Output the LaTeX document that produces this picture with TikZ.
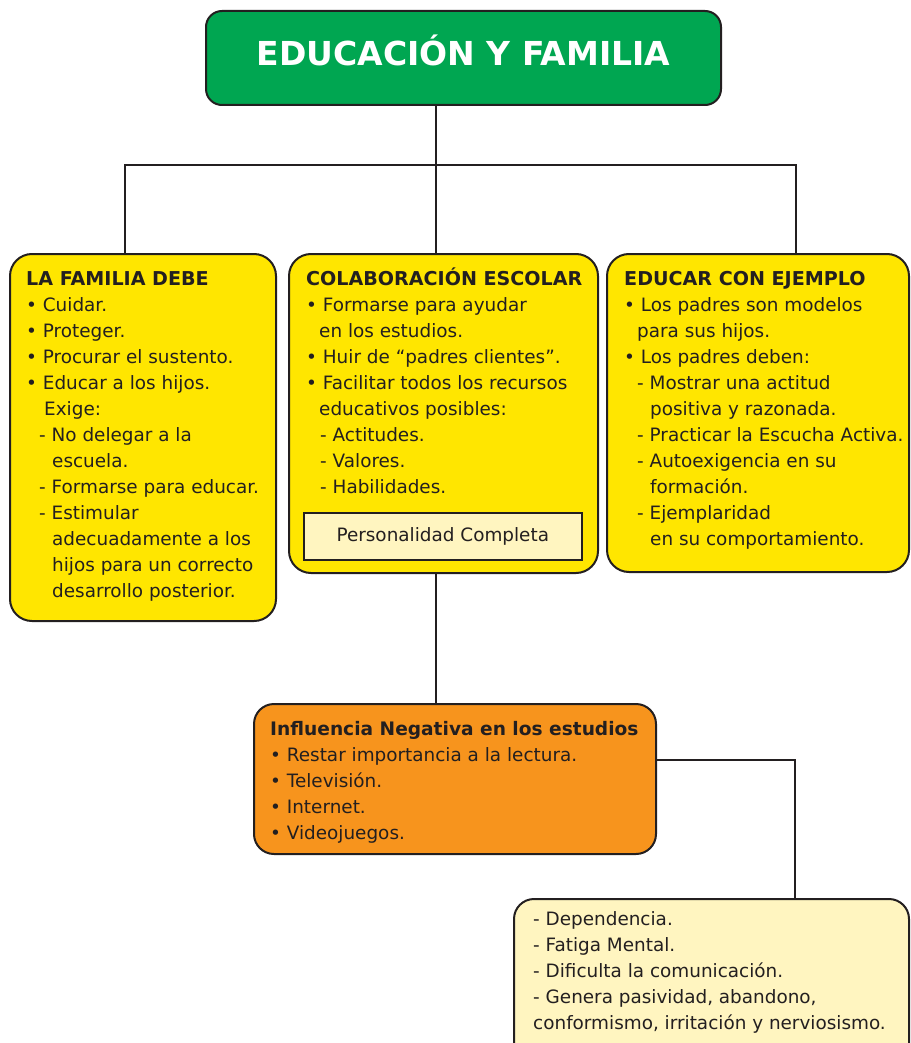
\documentclass[tikz,border=0pt]{standalone}
\usepackage{fontspec}
\setmainfont{DejaVu Sans}
\usetikzlibrary{positioning}
\definecolor{verde}{RGB}{0,166,81}
\definecolor{amarillo}{RGB}{255,230,0}
\definecolor{naranja}{RGB}{247,148,29}
\definecolor{crema}{RGB}{255,245,192}
\definecolor{borde}{RGB}{35,31,32}
\newcommand\cabecera[2][19.1]{{\fontsize{#1}{26}\selectfont\bfseries #2}}

\begin{document}
\begin{tikzpicture}[x=1pt, y=-1pt,
    caja/.style={draw=borde, line width=2pt, rounded corners=22pt, anchor=north west, inner sep=0pt},
    txt/.style={anchor=north west, inner sep=0pt, align=left, text=borde, font=\fontsize{18.4}{26}\selectfont},
    linea/.style={draw=borde, line width=2.7pt}]
    \useasboundingbox (0,0) rectangle (910,1043);
    \clip (0,0) rectangle (910,1043);

    \node[caja, fill=verde, rounded corners=16pt, minimum width=515pt, minimum height=94pt, text height=20pt, text depth=4pt, text=white, font=\fontsize{33}{40}\selectfont\bfseries] (n1) at (205,10) {EDUCACIÓN Y FAMILIA};
    \node[caja, fill=amarillo, minimum width=266pt, minimum height=367pt] (n2) at (9,253) {};
    \node[caja, fill=amarillo, minimum width=309pt, minimum height=319pt] (n3) at (288,253) {};
    \node[caja, fill=amarillo, minimum width=302pt, minimum height=318pt] (n4) at (606,253) {};
    \node[caja, fill=crema, sharp corners, line width=1.6pt, minimum width=278pt, minimum height=47pt, text=borde, font=\fontsize{18.4}{26}\selectfont] (n5) at (303,512) {Personalidad Completa};
    \node[caja, fill=naranja, rounded corners=20pt, minimum width=402pt, minimum height=150pt] (n6) at (253,703) {};
    \node[caja, fill=crema, rounded corners=20pt, minimum width=395pt, minimum height=175pt] (n7) at (513,898) {};

    \node[txt] (t2) at (26,267) {\strut\cabecera{LA FAMILIA DEBE}\\
        • Cuidar.\\
        • Proteger.\\
        • Procurar el sustento.\\
        • Educar a los hijos.\\
        \hspace*{18pt}Exige:\\
        \hspace*{13pt}- No delegar a la\\
        \hspace*{26pt}escuela.\\
        \hspace*{13pt}- Formarse para educar.\\
        \hspace*{13pt}- Estimular\\
        \hspace*{26pt}adecuadamente a los\\
        \hspace*{26pt}hijos para un correcto\\
        \hspace*{26pt}desarrollo posterior.};
    \node[txt] (t3) at (306,267) {\strut\cabecera{COLABORACIÓN ESCOLAR}\\
        • Formarse para ayudar\\
        \hspace*{13pt}en los estudios.\\
        • Huir de “padres clientes”.\\
        • Facilitar todos los recursos\\
        \hspace*{13pt}educativos posibles:\\
        \hspace*{14pt}- Actitudes.\\
        \hspace*{14pt}- Valores.\\
        \hspace*{14pt}- Habilidades.};
    \node[txt] (t4) at (624,267) {\strut\cabecera{EDUCAR CON EJEMPLO}\\
        • Los padres son modelos\\
        \hspace*{13pt}para sus hijos.\\
        • Los padres deben:\\
        \hspace*{13pt}- Mostrar una actitud\\
        \hspace*{26pt}positiva y razonada.\\
        \hspace*{13pt}- Practicar la Escucha Activa.\\
        \hspace*{13pt}- Autoexigencia en su\\
        \hspace*{26pt}formación.\\
        \hspace*{13pt}- Ejemplaridad\\
        \hspace*{26pt}en su comportamiento.};
    \node[txt] (t6) at (270,717) {\strut\cabecera[18.6]{Influencia Negativa en los estudios}\\
        • Restar importancia a la lectura.\\
        • Televisión.\\
        • Internet.\\
        • Videojuegos.};
    \node[txt] (t7) at (533,907) {\strut- Dependencia.\\
        - Fatiga Mental.\\
        - Dificulta la comunicación.\\
        - Genera pasividad, abandono,\\
        conformismo, irritación y nerviosismo.};

    \coordinate (c1) at (436,165);
    \coordinate (c2) at (125,165);
    \coordinate (c3) at (796,165);
    \coordinate (c4) at (795,760);

    \draw[linea] (c1 |- n1.south) -- (c1 |- n3.north);
    \draw[linea] (c2 |- n2.north) -- (c2) -- (c3) -- (c3 |- n4.north);
    \draw[linea] (c1 |- n3.south) -- (c1 |- n6.north);
    \draw[linea] (c4 -| n6.east) -- (c4) -- (c4 |- n7.north);
\end{tikzpicture}
\end{document}
